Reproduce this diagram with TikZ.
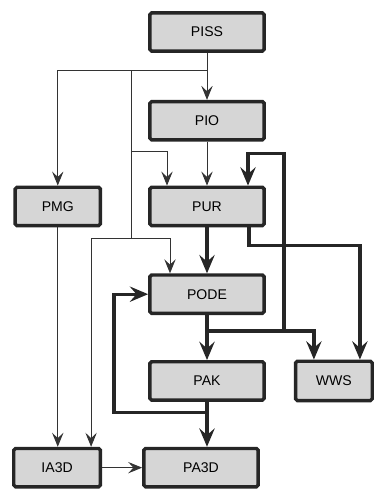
\documentclass[tikz,border=0pt]{standalone}
\usepackage{fontspec}
\setmainfont{Liberation Sans}
\usetikzlibrary{arrows.meta, positioning}

\begin{document}
\begin{tikzpicture}[
        >=Stealth,
        node distance=1.38cm and 1.38cm,
        every node/.style={font=\fontsize{12}{14}\selectfont},
        module/.style={draw=black!85, line width=2.9pt, rounded corners=1.5pt, fill=black!16, minimum width=3.43cm, minimum height=1.15cm, align=center},
        thinline/.style={line width=0.8pt, draw=black!80},
        thinarr/.style={thinline, -{Stealth[length=0.42cm, width=0.34cm, inset=0.16cm]}},
        thickarr/.style={line width=2.8pt, draw=black!85, -{Stealth[length=0.55cm, width=0.46cm, inset=0.2cm]}},
    ]

    \useasboundingbox (0,0) rectangle (11.22,-14.73);

    %% ===== Main column =====
    \node[module] (piss) at (6.21,-0.96) {PISS};
    \node[module, below=1.41cm of piss] (pio) {PIO};
    \node[module, below=1.32cm of pio] (pur) {PUR};
    \node[module, below=1.38cm of pur] (pode) {PODE};
    \node[module, below=1.35cm of pode] (pak) {PAK};
    \node[module, below=1.35cm of pak, xshift=-0.18cm] (pa3d) {PA3D};

    %% ===== Side boxes =====
    \node[module, left=1.38cm of pur, minimum width=2.56cm] (pmg) {PMG};
    \node[module, right=0.84cm of pak, minimum width=2.3cm, minimum height=1.18cm] (wws) {WWS};
    \node[module, left=1.2cm of pa3d, minimum width=2.6cm] (ia3d) {IA3D};

    %% ===== Helper points =====
    \coordinate (split) at ([yshift=-0.54cm]piss.south);
    \coordinate (tx) at ([xshift=-0.51cm]pur.west);
    \coordinate (pmid) at ([yshift=-0.3cm]pio.south);
    \coordinate (plow) at ([yshift=-0.33cm]pur.south);
    \coordinate (fb) at ([yshift=-0.33cm]pak.south);
    \coordinate (fbx) at ([xshift=-1.02cm]pode.west);
    \coordinate (jw) at ([yshift=-0.48cm]pode.south);
    \coordinate (rx) at ([xshift=0.54cm, yshift=0.96cm]pur.north east);

    %% Thin links from PISS
    \draw[thinarr] (piss) -- (pio);
    \draw[thinarr] (split) -| (pmg.north);
    \draw[thinline] (tx |- split) -- (tx |- plow);
    \draw[thinarr] (tx |- pmid) -| ([xshift=-1.2cm]pur.north);
    \draw[thinarr] (tx |- plow) -| ([xshift=-1.11cm]pode.north);
    \draw[thinarr] (tx |- plow) -| ([xshift=1.02cm]ia3d.north);

    %% Other thin links
    \draw[thinarr] (pio) -- (pur);
    \draw[thinarr] (pmg.south) -- (pmg.south |- ia3d.north);
    \draw[thinarr] (ia3d) -- (pa3d);

    %% Thick links
    \draw[thickarr] (pur) -- (pode);
    \draw[thickarr] (pode) -- (pak);
    \draw[thickarr] (pak.south) -- (pak.south |- pa3d.north);
    \draw[thickarr] (fb) -- (fb -| fbx) |- (pode.west);
    \draw[thickarr] (jw) -| ([xshift=-0.6cm]wws.north);
    \draw[thickarr] (jw -| rx) -- (rx) -| ([xshift=1.23cm]pur.north);
    \draw[thickarr] ([xshift=1.26cm]pur.south) -- ++(0,-0.54) -| ([xshift=0.78cm]wws.north);

\end{tikzpicture}
\end{document}
